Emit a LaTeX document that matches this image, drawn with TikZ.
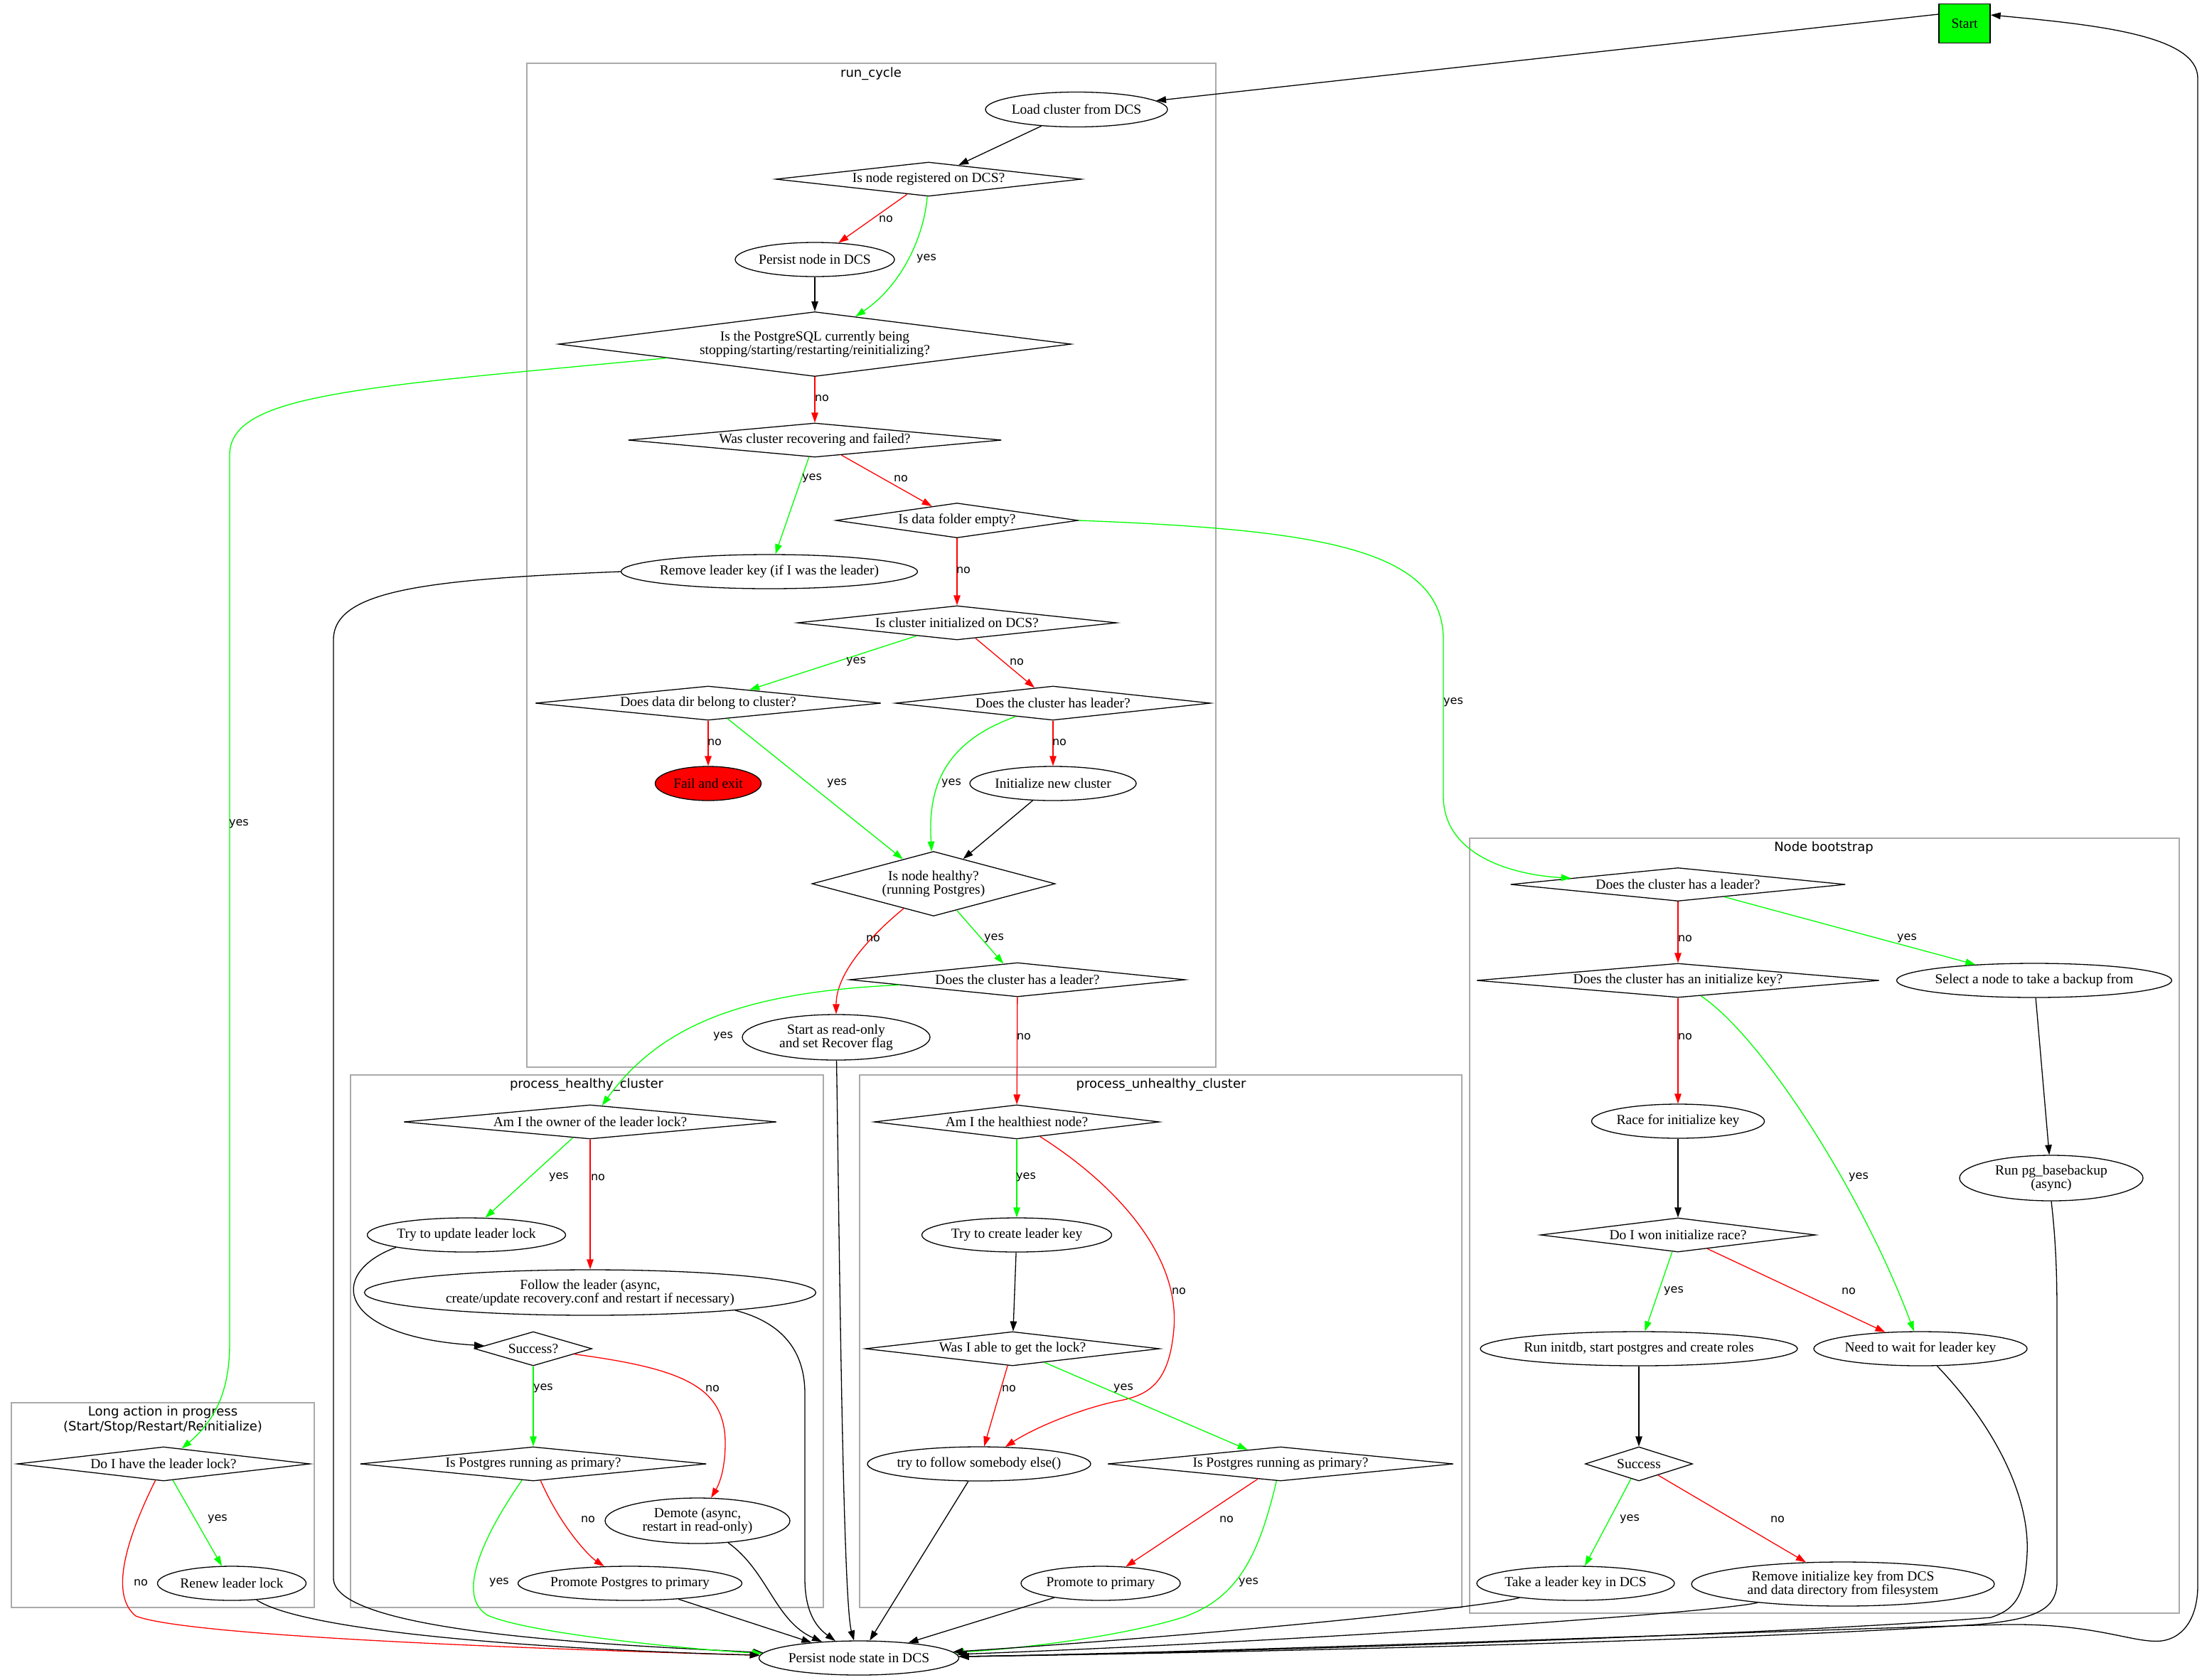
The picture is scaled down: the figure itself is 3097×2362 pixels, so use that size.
\documentclass[tikz,border=0pt]{standalone}
\usepackage{fontspec}
\setmainfont{Liberation Serif}
\newfontfamily\dejasans{DejaVu Sans}
\usetikzlibrary{shapes.geometric,arrows.meta}
\definecolor{clgray}{RGB}{170,170,170}
\newcommand\gvnodefont{\fontsize{19.5pt}{19pt}\selectfont}
\newcommand\gvlabfont{\dejasans\fontsize{16pt}{18pt}\selectfont}
\newcommand\gvclusfont{\dejasans\fontsize{18pt}{21pt}\selectfont}
\begin{document}
\begin{tikzpicture}[x=1pt,y=-1pt,
  base/.style={draw, line width=1.3pt, inner sep=0pt},
  ell/.style={base, ellipse},
  dia/.style={base, diamond},
  ntext/.style={align=center, font=\gvnodefont, inner sep=0pt},
  txt/.style={label={[ntext]center:{#1}}},
  e/.style={line width=1.3pt, -{Triangle[length=14pt,width=9.5pt]}},
  elab/.style={font=\gvlabfont, inner sep=0pt, text=black},
  clus/.style={draw=clgray, line width=1.3pt},
  clab/.style={font=\gvclusfont, align=center, inner sep=0pt}]
\fill[white] (0,0) rectangle (3097,2362);
\useasboundingbox (0,0) rectangle (3097,2362);

% clusters
\draw[clus] (741,89) rectangle (1710,1501);
\node[clab] (lrun) at (1225,104) {run\_cycle};
\draw[clus] (493,1512) rectangle (1158,2261);
\node[clab] (lhealthy) at (825,1526) {process\_healthy\_cluster};
\draw[clus] (1209,1512) rectangle (2056,2261);
\node[clab] (lunhealthy) at (1633,1526) {process\_unhealthy\_cluster};
\draw[clus] (16,1973) rectangle (442,2261);
\node[clab] (llong) at (229,1997) {Long action in progress\\(Start/Stop/Restart/Reinitialize)};
\draw[clus] (2067,1179) rectangle (3065,2269);
\node[clab] (lboot) at (2565,1193) {Node bootstrap};

% nodes
\node[base, rectangle, fill=green, minimum width=72pt, minimum height=55pt, font=\gvnodefont] (start) at (2763,33) {Start};
\node[ell, minimum width=256pt, minimum height=49pt, txt={Load cluster from DCS}] (load) at (1514,154) {};
\node[dia, minimum width=430pt, minimum height=48pt, txt={Is node registered on DCS?}] (isreg) at (1306,252) {};
\node[ell, minimum width=224pt, minimum height=48pt, txt={Persist node in DCS}] (persnode) at (1146,365) {};
\node[dia, minimum width=721pt, minimum height=91pt, txt={Is the PostgreSQL currently being\\stopping/starting/restarting/reinitializing?}] (ispg) at (1146,484) {};
\node[dia, minimum width=525pt, minimum height=48pt, txt={Was cluster recovering and failed?}] (wasrec) at (1146,619) {};
\node[dia, minimum width=341pt, minimum height=49pt, txt={Is data folder empty?}] (empty) at (1346,732) {};
\node[ell, minimum width=417pt, minimum height=48pt, txt={Remove leader key (if I was the leader)}] (remlead) at (1082,804) {};
\node[dia, minimum width=449pt, minimum height=48pt, txt={Is cluster initialized on DCS?}] (clinit) at (1346,876) {};
\node[dia, minimum width=486pt, minimum height=48pt, txt={Does data dir belong to cluster?}] (datadir) at (996,989) {};
\node[dia, minimum width=443pt, minimum height=48pt, txt={Does the cluster has leader?}] (hasldr) at (1481,989) {};
\node[ell, fill=red, minimum width=149pt, minimum height=48pt, txt={Fail and exit}] (fail) at (996,1102) {};
\node[ell, minimum width=234pt, minimum height=48pt, txt={Initialize new cluster}] (initnew) at (1481,1102) {};
\node[dia, minimum width=342pt, minimum height=91pt, txt={Is node healthy?\\(running Postgres)}] (healthy) at (1313,1243) {};
\node[dia, minimum width=472pt, minimum height=48pt, txt={Does the cluster has a leader?}] (rcldr) at (1431,1378) {};
\node[ell, minimum width=264pt, minimum height=64pt, txt={Start as read-only\\and set Recover flag}] (startro) at (1176,1459) {};

\node[dia, minimum width=524pt, minimum height=48pt, txt={Am I the owner of the leader lock?}] (owner) at (830,1578) {};
\node[ell, minimum width=279pt, minimum height=48pt, txt={Try to update leader lock}] (tryupd) at (656,1737) {};
\node[ell, minimum width=635pt, minimum height=64pt, txt={Follow the leader (async,\\create/update recovery.conf and restart if necessary)}] (follow) at (830,1818) {};
\node[dia, minimum width=165pt, minimum height=48pt, txt={Success?}] (succ) at (750,1897) {};
\node[dia, minimum width=487pt, minimum height=48pt, txt={Is Postgres running as primary?}] (prim1) at (750,2059) {};
\node[ell, minimum width=260pt, minimum height=64pt, txt={Demote (async,\\restart in read-only)}] (demote) at (981,2139) {};
\node[ell, minimum width=315pt, minimum height=48pt, txt={Promote Postgres to primary}] (promote1) at (886,2227) {};
\node[ell, minimum width=281pt, minimum height=48pt, txt={Persist node state in DCS}] (persist) at (1208,2332) {};

\node[dia, minimum width=412pt, minimum height=48pt, txt={Do I have the leader lock?}] (havelock) at (230,2059) {};
\node[ell, minimum width=209pt, minimum height=48pt, txt={Renew leader lock}] (renew) at (326,2227) {};

\node[dia, minimum width=401pt, minimum height=48pt, txt={Am I the healthiest node?}] (healthiest) at (1430,1578) {};
\node[ell, minimum width=267pt, minimum height=48pt, txt={Try to create leader key}] (trycreate) at (1430,1737) {};
\node[dia, minimum width=414pt, minimum height=48pt, txt={Was I able to get the lock?}] (wasable) at (1424,1897) {};
\node[ell, minimum width=314pt, minimum height=48pt, txt={try to follow somebody else()}] (tryfollow) at (1377,2059) {};
\node[dia, minimum width=486pt, minimum height=48pt, txt={Is Postgres running as primary?}] (prim2) at (1801,2059) {};
\node[ell, minimum width=224pt, minimum height=48pt, txt={Promote to primary}] (promote2) at (1548,2227) {};

\node[dia, minimum width=471pt, minimum height=47pt, txt={Does the cluster has a leader?}] (bldr) at (2360,1244) {};
\node[dia, minimum width=566pt, minimum height=48pt, txt={Does the cluster has an initialize key?}] (initkey) at (2360,1379) {};
\node[ell, minimum width=387pt, minimum height=48pt, txt={Select a node to take a backup from}] (select) at (2861,1379) {};
\node[ell, minimum width=243pt, minimum height=48pt, txt={Race for initialize key}] (race) at (2360,1577) {};
\node[ell, minimum width=258pt, minimum height=64pt, txt={Run pg\_basebackup\\(async)}] (basebk) at (2885,1657) {};
\node[dia, minimum width=387pt, minimum height=48pt, txt={Do I won initialize race?}] (won) at (2360,1737) {};
\node[ell, minimum width=446pt, minimum height=48pt, txt={Run initdb, start postgres and create roles}] (initdb) at (2305,1897) {};
\node[ell, minimum width=300pt, minimum height=48pt, txt={Need to wait for leader key}] (wait) at (2701,1897) {};
\node[dia, minimum width=151pt, minimum height=48pt, txt={Success}] (succb) at (2305,2059) {};
\node[ell, minimum width=278pt, minimum height=48pt, txt={Take a leader key in DCS}] (takeldr) at (2216,2227) {};
\node[ell, minimum width=426pt, minimum height=62pt, txt={Remove initialize key from DCS\\and data directory from filesystem}] (reminit) at (2592,2228) {};

% edges: run_cycle
\draw[e] ([yshift=13pt]start.west) -- (load);
\draw[e] (load) -- (isreg);
\draw[e,red] (isreg) -- (persnode) node[elab] at (1246,308) {no};
\draw[e,green] (isreg) .. controls (1300,330) and (1270,400) .. (ispg) node[elab] at (1303,364) {yes};
\draw[e] (persnode) -- (ispg);
\draw[e,red] (ispg) -- (wasrec) node[elab] at (1156,560) {no};
\draw[e,green] (ispg) .. controls (500,545) and (323,555) .. (323,640) -- (323,1890) .. controls (323,1960) and (300,2000) .. (havelock) node[elab] at (336,1159) {yes};
\draw[e,green] (wasrec) -- (remlead) node[elab] at (1142,673) {yes};
\draw[e,red] (wasrec) -- (empty) node[elab] at (1267,673) {no};
\draw[e,red] (empty) -- (clinit) node[elab] at (1355,802) {no};
\draw[e,green] (empty.east) .. controls (1850,745) and (2030,770) .. (2030,900) -- (2030,1120) .. controls (2030,1200) and (2120,1230) .. (bldr) node[elab] at (2044,988) {yes};
\draw[e] (remlead.west) .. controls (600,815) and (469,830) .. (469,900) -- (469,2220) .. controls (469,2300) and (900,2315) .. (persist);
\draw[e,green] (clinit) -- (datadir) node[elab] at (1204,931) {yes};
\draw[e,red] (clinit) -- (hasldr) node[elab] at (1430,931) {no};
\draw[e,red] (datadir) -- (fail) node[elab] at (1005,1044) {no};
\draw[e,green] (datadir) -- (healthy) node[elab] at (1177,1102) {yes};
\draw[e,green] (hasldr) .. controls (1325,1045) and (1305,1110) .. (healthy) node[elab] at (1338,1102) {yes};
\draw[e,red] (hasldr) -- (initnew) node[elab] at (1490,1044) {no};
\draw[e] (initnew) -- (healthy);
\draw[e,green] (healthy) -- (rcldr) node[elab] at (1398,1320) {yes};
\draw[e,red] (healthy) .. controls (1220,1320) and (1176,1370) .. (startro) node[elab] at (1228,1320) {no};
\draw[e,green] (rcldr) .. controls (1050,1395) and (930,1440) .. (owner) node[elab] at (1017,1458) {yes};
\draw[e,red] (rcldr) -- (healthiest) node[elab] at (1440,1458) {no};
\draw[e] (startro) .. controls (1180,1700) and (1185,2250) .. (persist);

% edges: process_healthy_cluster
\draw[e,green] (owner) -- (tryupd) node[elab] at (786,1656) {yes};
\draw[e,red] (owner) -- (follow) node[elab] at (841,1656) {no};
\draw[e] (tryupd.190) .. controls (460,1790) and (470,1880) .. (succ);
\draw[e] (follow.-7) .. controls (1100,1860) and (1132,1900) .. (1132,1960) -- (1132,2220) .. controls (1132,2270) and (1150,2290) .. (persist);
\draw[e,green] (succ) -- (prim1) node[elab] at (764,1953) {yes};
\draw[e,red] (succ) .. controls (960,1925) and (1020,1950) .. (1020,2030) .. controls (1020,2070) and (1010,2090) .. (demote) node[elab] at (1002,1953) {no};
\draw[e,green] (prim1) .. controls (680,2160) and (640,2245) .. (686,2272) .. controls (750,2300) and (1000,2322) .. (persist) node[elab] at (702,2226) {yes};
\draw[e,red] (prim1) .. controls (790,2150) and (830,2190) .. (promote1) node[elab] at (827,2137) {no};
\draw[e] (demote) .. controls (1080,2210) and (1090,2280) .. (persist);
\draw[e] (promote1) -- (persist);

% edges: long action
\draw[e,green] (havelock) -- (renew) node[elab] at (306,2137) {yes};
\draw[e,red] (havelock) .. controls (185,2150) and (150,2240) .. (191,2273) .. controls (260,2300) and (700,2318) .. (persist) node[elab] at (198,2226) {no};
\draw[e] (renew) .. controls (420,2290) and (700,2318) .. (persist);

% edges: process_unhealthy_cluster
\draw[e,green] (healthiest) -- (trycreate) node[elab] at (1443,1656) {yes};
\draw[e,red] (healthiest) .. controls (1560,1660) and (1660,1760) .. (1651,1869) .. controls (1645,1940) and (1620,1960) .. (1580,1969) .. controls (1530,1978) and (1460,2005) .. (tryfollow) node[elab] at (1658,1816) {no};
\draw[e] (trycreate) -- (wasable);
\draw[e,red] (wasable) -- (tryfollow) node[elab] at (1419,1953) {no};
\draw[e,green] (wasable) -- (prim2) node[elab] at (1580,1953) {yes};
\draw[e] (tryfollow) -- (persist);
\draw[e,red] (prim2) -- (promote2) node[elab] at (1725,2137) {no};
\draw[e,green] (prim2) .. controls (1770,2190) and (1740,2250) .. (1660,2276) .. controls (1580,2300) and (1450,2318) .. (persist) node[elab] at (1756,2226) {yes};
\draw[e] (promote2) -- (persist);

% edges: node bootstrap
\draw[e,red] (bldr) -- (initkey) node[elab] at (2370,1320) {no};
\draw[e,green] (bldr) -- (select) node[elab] at (2682,1320) {yes};
\draw[e,red] (initkey) -- (race) node[elab] at (2370,1458) {no};
\draw[e,green] (initkey) .. controls (2480,1460) and (2620,1680) .. (wait) node[elab] at (2614,1656) {yes};
\draw[e] (race) -- (won);
\draw[e,green] (won) -- (initdb) node[elab] at (2354,1816) {yes};
\draw[e,red] (won) -- (wait) node[elab] at (2600,1816) {no};
\draw[e] (initdb) -- (succb);
\draw[e,green] (succb) -- (takeldr) node[elab] at (2292,2137) {yes};
\draw[e,red] (succb) -- (reminit) node[elab] at (2500,2137) {no};
\draw[e] (select) -- (basebk);
\draw[e] (takeldr) .. controls (2080,2262) and (1700,2300) .. (persist);
\draw[e] (reminit) .. controls (2400,2270) and (1800,2310) .. (persist);
\draw[e] (wait) .. controls (2800,2000) and (2855,2100) .. (2851,2185) .. controls (2848,2250) and (2830,2265) .. (2800,2275) .. controls (2500,2300) and (1700,2325) .. (persist);
\draw[e] (basebk.south) .. controls (2892,1750) and (2893,1800) .. (2893,1850) -- (2893,2225) .. controls (2893,2265) and (2860,2278) .. (2780,2285) .. controls (2400,2310) and (1700,2325) .. (persist);

% return edge
\draw[e] (persist) .. controls (1700,2325) and (2600,2290) .. (2818,2285) .. controls (2950,2283) and (3000,2312) .. (3040,2308) .. controls (3075,2303) and (3091,2270) .. (3091,2230) -- (3091,110) .. controls (3091,50) and (2950,35) .. ([yshift=12pt]start.east);
\end{tikzpicture}
\end{document}
